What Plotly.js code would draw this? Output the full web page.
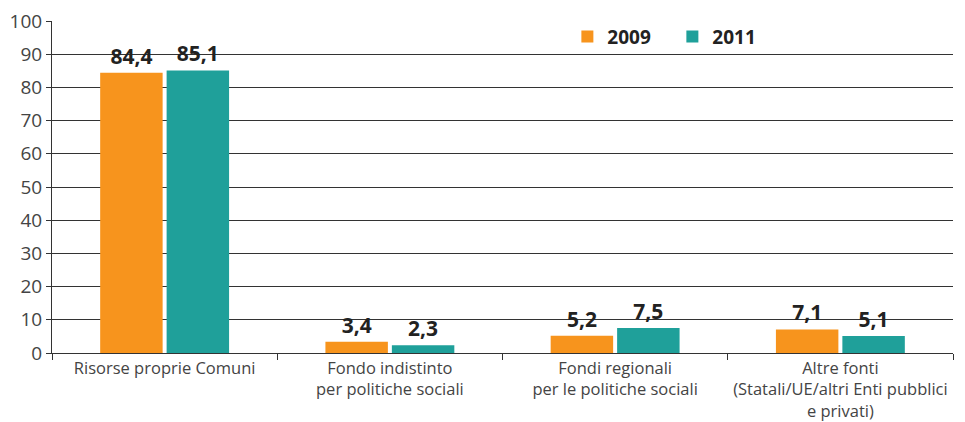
<!DOCTYPE html>
<html>
<head>
<meta charset="utf-8">
<script src="https://cdn.plot.ly/plotly-3.0.1.min.js"></script>
<style>html,body{margin:0;padding:0;background:#fff;}#chart{width:965px;height:422px;}</style>
</head>
<body>
<div id="chart"></div>
<script>
const categories = [
  "Risorse proprie Comuni",
  "Fondo indistinto<br>per politiche sociali",
  "Fondi regionali<br>per le politiche sociali",
  "Altre fonti<br>(Statali/UE/altri Enti pubblici<br>e privati)"
];
const seriesNames = ["2009", "2011"];
const values2009 = [84.4, 3.4, 5.2, 7.1];
const values2011 = [85.1, 2.3, 7.5, 5.1];
const yTicks = [0, 10, 20, 30, 40, 50, 60, 70, 80, 90, 100];

const colors = ["#F7941D", "#1FA09A"];
const font = "Open Sans, Liberation Sans, sans-serif";

function trace(name, vals, color) {
  return {
    type: "bar", name: name, x: categories, y: vals,
    marker: {color: color},
    texttemplate: "%{y:.1f}", textposition: "outside", cliponaxis: false,
    textfont: {family: font, size: 21, color: "#222", weight: "bold"},
    hoverinfo: "skip"
  };
}

const data = [trace(seriesNames[0], values2009, colors[0]), trace(seriesNames[1], values2011, colors[1])];

const layout = {
  width: 965, height: 422,
  margin: {l: 52, r: 12, t: 21, b: 69},
  separators: ",.",
  paper_bgcolor: "#fff", plot_bgcolor: "#fff",
  barmode: "group", bargap: 0.41, bargroupgap: 0.06,
  font: {family: font, size: 16.5, color: "#444"},
  showlegend: true,
  legend: {orientation: "h", x: 0.572, xanchor: "left", y: 1.01, yanchor: "top",
           font: {family: font, size: 19, color: "#222", weight: "bold"},
           bgcolor: "rgba(0,0,0,0)", itemwidth: 30, traceorder: "normal",
           entrywidth: 60, entrywidthmode: "pixels"},
  xaxis: {type: "category", showline: true, linecolor: "#333", linewidth: 1,
          ticks: "outside", tickson: "boundaries", ticklen: 6, tickcolor: "#333",
          tickangle: 0, automargin: false,
          tickfont: {family: font, size: 16.5, color: "#444"}, showgrid: false},
  yaxis: {range: [0, 100], tickvals: yTicks, showline: true, linecolor: "#333", linewidth: 1,
          ticks: "outside", ticklen: 5, tickcolor: "#333",
          showgrid: true, gridcolor: "#333", gridwidth: 1, zeroline: false,
          tickfont: {family: font, size: 19, color: "#444"}}
};

Plotly.newPlot("chart", data, layout, {displayModeBar: false, staticPlot: true});
</script>
</body>
</html>
